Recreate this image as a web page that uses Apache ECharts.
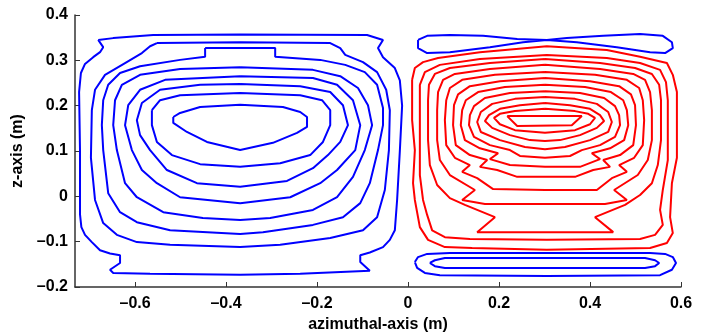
<!DOCTYPE html>
<html>
<head>
<meta charset="utf-8">
<script src="https://cdn.jsdelivr.net/npm/echarts@6.0.0/dist/echarts.min.js"></script>
<style>
html, body { margin: 0; padding: 0; background: #fff; }
#main { width: 707px; height: 332px; }
</style>
</head>
<body>
<div id="main"></div>
<script>
var xTicks = [-0.6, -0.4, -0.2, 0, 0.2, 0.4, 0.6];
var yTicks = [-0.2, -0.1, 0, 0.1, 0.2, 0.3, 0.4];

// left cell, blue contours (outer to inner)
var blue1 = [[-0.681,0.345],[-0.670,0.329],[-0.677,0.318],[-0.692,0.307],[-0.710,0.292],[-0.719,0.272],[-0.723,0.230],[-0.721,0.100],[-0.721,-0.040],[-0.718,-0.068],[-0.710,-0.085],[-0.695,-0.101],[-0.677,-0.119],[-0.655,-0.126],[-0.633,-0.130],[-0.633,-0.147],[-0.655,-0.162],[-0.648,-0.169],[-0.567,-0.171],[-0.369,-0.173],[-0.237,-0.171],[-0.084,-0.164],[-0.105,-0.145],[-0.105,-0.130],[-0.084,-0.124],[-0.055,-0.112],[-0.040,-0.096],[-0.029,-0.075],[-0.024,-0.008],[-0.018,0.100],[-0.013,0.200],[-0.018,0.256],[-0.029,0.283],[-0.055,0.307],[-0.066,0.327],[-0.055,0.345],[-0.090,0.356],[-0.369,0.357],[-0.560,0.356],[-0.648,0.349],[-0.681,0.345]];
var blue2 = [[-0.552,0.338],[-0.567,0.331],[-0.585,0.316],[-0.622,0.294],[-0.666,0.268],[-0.688,0.235],[-0.695,0.190],[-0.697,0.085],[-0.688,-0.008],[-0.670,-0.059],[-0.640,-0.085],[-0.596,-0.101],[-0.523,-0.107],[-0.369,-0.112],[-0.281,-0.107],[-0.171,-0.092],[-0.099,-0.075],[-0.068,-0.046],[-0.051,0.014],[-0.042,0.102],[-0.040,0.190],[-0.048,0.235],[-0.068,0.274],[-0.099,0.296],[-0.138,0.312],[-0.149,0.327],[-0.171,0.338],[-0.369,0.340],[-0.552,0.338]];
var blue3 = [[-0.446,0.327],[-0.292,0.327],[-0.292,0.308],[-0.193,0.301],[-0.138,0.290],[-0.095,0.274],[-0.068,0.246],[-0.055,0.195],[-0.055,0.157],[-0.066,0.102],[-0.084,0.029],[-0.105,-0.015],[-0.143,-0.046],[-0.209,-0.063],[-0.319,-0.079],[-0.369,-0.083],[-0.523,-0.075],[-0.596,-0.057],[-0.633,-0.035],[-0.659,0.007],[-0.670,0.102],[-0.673,0.157],[-0.670,0.212],[-0.659,0.246],[-0.633,0.272],[-0.589,0.287],[-0.501,0.301],[-0.446,0.308],[-0.446,0.327]];
var blue4 = [[-0.369,0.285],[-0.209,0.279],[-0.149,0.265],[-0.110,0.239],[-0.088,0.201],[-0.079,0.157],[-0.095,0.102],[-0.121,0.043],[-0.156,-0.002],[-0.209,-0.030],[-0.303,-0.048],[-0.369,-0.052],[-0.451,-0.048],[-0.538,-0.035],[-0.596,-0.002],[-0.622,0.029],[-0.640,0.102],[-0.648,0.157],[-0.644,0.212],[-0.629,0.246],[-0.589,0.268],[-0.501,0.281],[-0.369,0.285]];
var blue5 = [[-0.369,0.265],[-0.209,0.261],[-0.156,0.246],[-0.121,0.212],[-0.105,0.157],[-0.116,0.102],[-0.156,0.058],[-0.193,0.029],[-0.259,-0.002],[-0.369,-0.015],[-0.501,-0.002],[-0.552,0.029],[-0.585,0.058],[-0.607,0.102],[-0.622,0.157],[-0.615,0.201],[-0.589,0.235],[-0.534,0.257],[-0.369,0.265]];
var blue6 = [[-0.369,0.248],[-0.237,0.243],[-0.171,0.230],[-0.143,0.201],[-0.132,0.157],[-0.149,0.120],[-0.176,0.091],[-0.209,0.062],[-0.266,0.034],[-0.369,0.021],[-0.464,0.029],[-0.530,0.058],[-0.567,0.102],[-0.589,0.135],[-0.596,0.168],[-0.585,0.206],[-0.545,0.235],[-0.457,0.246],[-0.369,0.248]];
var blue7 = [[-0.563,0.190],[-0.545,0.212],[-0.501,0.223],[-0.369,0.228],[-0.237,0.223],[-0.189,0.212],[-0.171,0.190],[-0.171,0.157],[-0.187,0.120],[-0.215,0.091],[-0.281,0.073],[-0.369,0.065],[-0.457,0.071],[-0.519,0.091],[-0.552,0.120],[-0.563,0.157],[-0.563,0.190]];
var blue8 = [[-0.516,0.175],[-0.516,0.162],[-0.486,0.142],[-0.442,0.120],[-0.369,0.102],[-0.297,0.118],[-0.244,0.140],[-0.222,0.153],[-0.222,0.175],[-0.237,0.186],[-0.275,0.197],[-0.369,0.202],[-0.457,0.197],[-0.501,0.184],[-0.516,0.175]];

// right cell, small blue loops
var blueTop = [[0.022,0.345],[0.042,0.354],[0.092,0.356],[0.165,0.354],[0.240,0.347],[0.305,0.345],[0.349,0.349],[0.429,0.354],[0.510,0.358],[0.560,0.354],[0.580,0.340],[0.582,0.327],[0.565,0.316],[0.532,0.318],[0.459,0.329],[0.371,0.340],[0.305,0.345],[0.253,0.340],[0.180,0.329],[0.092,0.318],[0.042,0.316],[0.022,0.327],[0.022,0.345]];
var blueLow1 = [[0.015,-0.145],[0.022,-0.134],[0.042,-0.127],[0.092,-0.125],[0.305,-0.125],[0.532,-0.125],[0.565,-0.127],[0.582,-0.134],[0.589,-0.147],[0.580,-0.162],[0.554,-0.174],[0.305,-0.176],[0.070,-0.174],[0.037,-0.169],[0.020,-0.158],[0.015,-0.145]];
var blueLow2 = [[0.048,-0.147],[0.059,-0.141],[0.081,-0.136],[0.305,-0.136],[0.521,-0.136],[0.543,-0.141],[0.552,-0.147],[0.543,-0.154],[0.521,-0.158],[0.305,-0.158],[0.081,-0.158],[0.059,-0.154],[0.048,-0.147]];

// right cell, red contours (outer to inner)
var red1 = [[0.009,0.257],[0.015,0.283],[0.033,0.296],[0.066,0.305],[0.158,0.318],[0.305,0.331],[0.437,0.323],[0.510,0.308],[0.569,0.294],[0.582,0.268],[0.591,0.230],[0.591,0.085],[0.580,0.029],[0.576,-0.046],[0.582,-0.081],[0.569,-0.103],[0.532,-0.114],[0.305,-0.118],[0.141,-0.114],[0.081,-0.112],[0.044,-0.096],[0.026,-0.068],[0.015,-0.008],[0.011,0.029],[0.015,0.102],[0.009,0.168],[0.009,0.257]];
var red2 = [[0.026,0.246],[0.037,0.274],[0.070,0.290],[0.158,0.303],[0.305,0.312],[0.437,0.305],[0.510,0.294],[0.554,0.279],[0.567,0.252],[0.571,0.212],[0.571,0.080],[0.560,0.014],[0.554,-0.030],[0.560,-0.063],[0.543,-0.085],[0.510,-0.094],[0.305,-0.096],[0.136,-0.094],[0.081,-0.090],[0.053,-0.075],[0.042,-0.041],[0.033,-0.008],[0.026,0.047],[0.026,0.168],[0.026,0.246]];
var red3 = [[0.301,0.303],[0.180,0.294],[0.092,0.283],[0.059,0.270],[0.046,0.246],[0.044,0.212],[0.044,0.124],[0.048,0.069],[0.064,0.025],[0.092,-0.004],[0.125,-0.019],[0.191,-0.046],[0.152,-0.079],[0.301,-0.079],[0.451,-0.079],[0.411,-0.046],[0.477,-0.019],[0.510,0.003],[0.536,0.029],[0.549,0.069],[0.556,0.124],[0.556,0.212],[0.552,0.246],[0.536,0.270],[0.499,0.283],[0.422,0.294],[0.301,0.303]];
var red4 = [[0.301,0.290],[0.180,0.281],[0.103,0.270],[0.077,0.257],[0.066,0.230],[0.064,0.190],[0.064,0.124],[0.070,0.080],[0.092,0.047],[0.147,0.014],[0.119,-0.008],[0.169,-0.017],[0.301,-0.017],[0.433,-0.017],[0.481,-0.008],[0.453,0.014],[0.505,0.047],[0.527,0.080],[0.536,0.124],[0.536,0.190],[0.532,0.230],[0.521,0.257],[0.495,0.270],[0.422,0.281],[0.301,0.290]];
var red5 = [[0.301,0.274],[0.191,0.268],[0.119,0.257],[0.092,0.239],[0.084,0.212],[0.081,0.168],[0.084,0.113],[0.103,0.085],[0.136,0.069],[0.119,0.054],[0.152,0.040],[0.187,0.016],[0.301,0.014],[0.415,0.014],[0.448,0.040],[0.481,0.054],[0.464,0.069],[0.497,0.085],[0.516,0.113],[0.519,0.168],[0.516,0.212],[0.508,0.239],[0.481,0.257],[0.411,0.268],[0.301,0.274]];
var red6 = [[0.301,0.261],[0.202,0.254],[0.136,0.243],[0.110,0.225],[0.101,0.201],[0.099,0.157],[0.105,0.113],[0.136,0.091],[0.174,0.080],[0.158,0.065],[0.196,0.058],[0.240,0.043],[0.301,0.043],[0.367,0.043],[0.407,0.058],[0.444,0.065],[0.429,0.080],[0.466,0.091],[0.495,0.113],[0.501,0.157],[0.499,0.201],[0.490,0.225],[0.464,0.243],[0.400,0.254],[0.301,0.261]];
var red7 = [[0.301,0.246],[0.213,0.241],[0.154,0.230],[0.127,0.212],[0.119,0.190],[0.116,0.157],[0.125,0.124],[0.158,0.106],[0.198,0.095],[0.180,0.082],[0.224,0.069],[0.301,0.065],[0.378,0.065],[0.422,0.082],[0.404,0.095],[0.444,0.106],[0.475,0.124],[0.484,0.157],[0.481,0.190],[0.473,0.212],[0.446,0.230],[0.389,0.241],[0.301,0.246]];
var red8 = [[0.301,0.232],[0.224,0.228],[0.169,0.217],[0.145,0.199],[0.136,0.179],[0.134,0.157],[0.145,0.131],[0.180,0.113],[0.224,0.102],[0.246,0.089],[0.301,0.085],[0.356,0.089],[0.382,0.102],[0.422,0.113],[0.455,0.131],[0.466,0.157],[0.464,0.179],[0.455,0.199],[0.431,0.217],[0.378,0.228],[0.301,0.232]];
var red9 = [[0.301,0.219],[0.235,0.215],[0.185,0.204],[0.160,0.186],[0.152,0.164],[0.160,0.142],[0.202,0.124],[0.257,0.109],[0.301,0.104],[0.345,0.109],[0.400,0.124],[0.440,0.142],[0.448,0.164],[0.440,0.186],[0.415,0.204],[0.367,0.215],[0.301,0.219]];
var red10 = [[0.301,0.206],[0.246,0.201],[0.202,0.193],[0.178,0.179],[0.169,0.166],[0.185,0.151],[0.224,0.135],[0.268,0.124],[0.301,0.122],[0.334,0.124],[0.378,0.135],[0.415,0.151],[0.431,0.166],[0.422,0.179],[0.400,0.193],[0.356,0.201],[0.301,0.206]];
var red11 = [[0.301,0.193],[0.235,0.188],[0.202,0.182],[0.189,0.173],[0.202,0.159],[0.235,0.146],[0.301,0.140],[0.367,0.146],[0.400,0.159],[0.411,0.173],[0.396,0.182],[0.367,0.188],[0.301,0.193]];
var red12 = [[0.218,0.177],[0.382,0.177],[0.360,0.157],[0.240,0.155],[0.218,0.177]];

var blueSets = [blue1, blue2, blue3, blue4, blue5, blue6, blue7, blue8, blueTop, blueLow1, blueLow2];
var redSets = [red1, red2, red3, red4, red5, red6, red7, red8, red9, red10, red11, red12];

var series = [];
blueSets.forEach(function (d) {
    series.push({ type: 'line', data: d, showSymbol: false, silent: true,
        lineStyle: { color: '#0000ff', width: 2 } });
});
redSets.forEach(function (d) {
    series.push({ type: 'line', data: d, showSymbol: false, silent: true,
        lineStyle: { color: '#ff0000', width: 2 } });
});

function fmt(v) {
    if (Math.abs(v) < 1e-9) return '0';
    return (v < 0 ? '\u2013' : '') + Math.abs(v).toFixed(1);
}

var labelStyle = { color: '#000', fontSize: 16, fontWeight: 'bold', fontFamily: 'Liberation Sans' };
var nameStyle = { color: '#000', fontSize: 16, fontWeight: 'bold', fontFamily: 'Liberation Sans' };

var chart = echarts.init(document.getElementById('main'));
chart.setOption({
    animation: false,
    backgroundColor: '#fff',
    grid: { left: 75, right: 26, top: 15, bottom: 45, outerBoundsMode: 'none', containLabel: false },
    xAxis: {
        type: 'value', min: -0.732, max: 0.6,
        name: 'azimuthal-axis (m)', nameLocation: 'middle', nameGap: 27,
        nameTextStyle: nameStyle,
        axisLine: { show: true, onZero: false, lineStyle: { color: '#333', width: 1.5 } },
        axisTick: { show: true, inside: true, length: 5, customValues: xTicks, lineStyle: { color: '#333' } },
        axisLabel: Object.assign({ customValues: xTicks, formatter: fmt, margin: 9 }, labelStyle),
        splitLine: { show: false }
    },
    yAxis: {
        type: 'value', min: -0.2, max: 0.4, interval: 0.1,
        name: 'z-axis (m)', nameLocation: 'middle', nameGap: 48, nameRotate: 90,
        nameTextStyle: nameStyle,
        axisLine: { show: true, onZero: false, lineStyle: { color: '#333', width: 1.5 } },
        axisTick: { show: true, inside: true, length: 5, customValues: yTicks, lineStyle: { color: '#333' } },
        axisLabel: Object.assign({ customValues: yTicks, formatter: fmt, margin: 7 }, labelStyle),
        splitLine: { show: false }
    },
    series: series
});
</script>
</body>
</html>
